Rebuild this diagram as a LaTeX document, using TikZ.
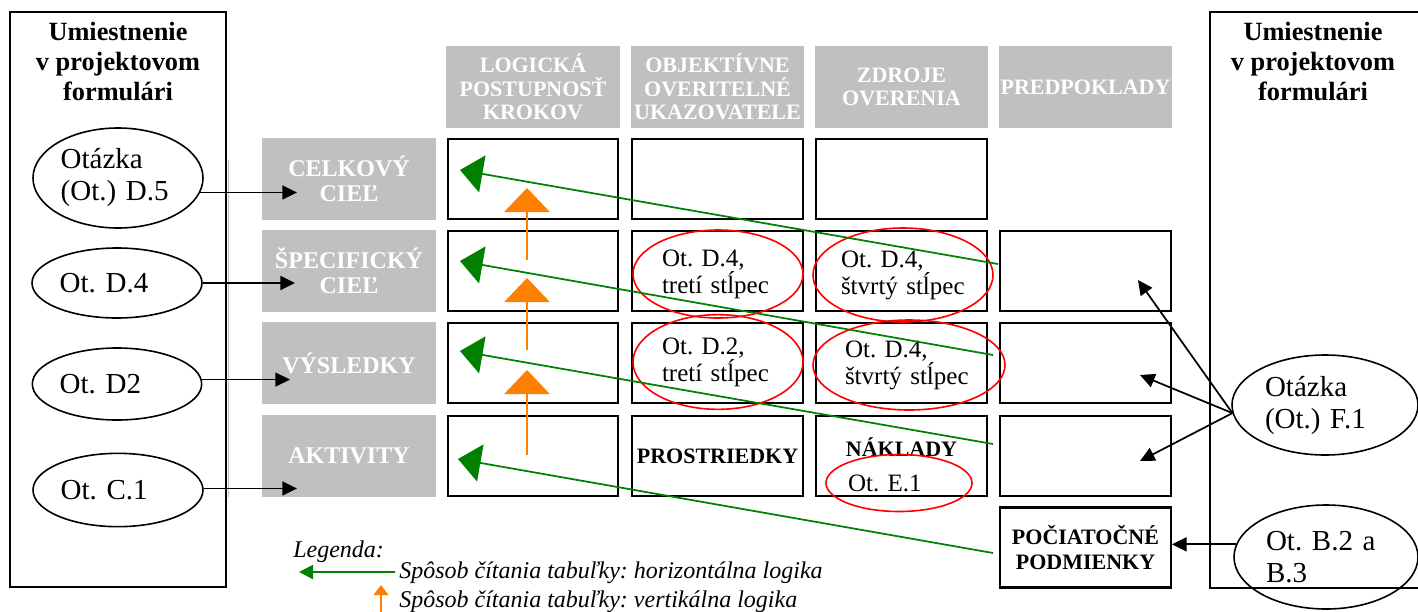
\documentclass[tikz,border=0pt]{standalone}
\usepackage{fontspec}
\setmainfont{Liberation Serif}
\usetikzlibrary{shapes.geometric,arrows.meta}
\definecolor{hdrgray}{RGB}{192,192,192}
\definecolor{grn}{RGB}{0,128,0}
\definecolor{org}{RGB}{255,128,0}
\newcommand\hdrfnt{\fontsize{16.5}{17.6}\selectfont\bfseries}
\newcommand\rowfnt{\fontsize{18}{18.75}\selectfont\bfseries}
\newcommand\cellfnt{\fontsize{16.5}{18.75}\selectfont\bfseries}
\newcommand\ellfnt{\fontsize{21.75}{24}\selectfont}
\newcommand\redfnt{\fontsize{18.75}{20.25}\selectfont}
\newcommand\ttlfnt{\fontsize{19.75}{22.5}\selectfont\bfseries}
\newcommand\legfnt{\fontsize{18}{21}\selectfont\itshape}
\tikzset{
  frame/.style={draw=black,line width=1.3pt},
  hdr/.style={fill=hdrgray,text=white,font=\hdrfnt,align=center,inner sep=0pt,
    minimum width=130pt,minimum height=61.5pt},
  rowhdr/.style={hdr,font=\rowfnt},
  cell/.style={draw=black,line width=1.6pt,font=\cellfnt,align=center,inner sep=0pt,
    minimum width=128pt,minimum height=60pt},
  celltxt/.style={font=\cellfnt,inner sep=0pt},
  qell/.style={ellipse,draw=black,line width=1.2pt,font=\ellfnt,align=left,
    text width=86pt,inner sep=0pt},
  redell/.style={ellipse,draw=red,line width=1.2pt,font=\redfnt,align=left,inner sep=0pt},
  ttl/.style={font=\ttlfnt,align=center,inner sep=0pt},
  legtxt/.style={font=\legfnt,inner sep=0pt,anchor=base west},
  blk/.style={line width=1.3pt,-{Triangle[length=11pt,width=10.5pt]}},
  grnarr/.style={grn,line width=1.3pt,-{Triangle[length=17pt,width=28pt]}},
  orgarr/.style={org,line width=1.5pt,-{Triangle[length=18pt,width=34pt]}},
}

\begin{document}
\frenchspacing
\begin{tikzpicture}[x=0.75pt,y=-0.75pt]
\useasboundingbox (0,0) rectangle (1418,611);
\clip (0,0) rectangle (1418,611);
\draw[frame] (10,12) rectangle (226,587);
\draw[frame] (1210,12) rectangle (1440,588);
\draw[hdrgray,line width=1.2pt] (228.5,160) -- (228.5,497);
\node[ttl] (ttll) at (118,62) {Umiestnenie\\v projektovom\\formulári};
\node[ttl] (ttlr) at (1313,62) {Umiestnenie\\v projektovom\\formulári};

\node[hdr] (hlog) at (533,87) {LOGICKÁ\\POSTUPNOSŤ\\KROKOV};
\node[hdr] (hobj) at (717.5,87) {OBJEKTÍVNE\\OVERITELNÉ\\UKAZOVATELE};
\node[hdr] (hzdr) at (901.5,87) {ZDROJE\\OVERENIA};
\node[hdr] (hpre) at (1085.5,87) {PREDPOKLADY};

\node[rowhdr] (hcel) at (349,179) {CELKOVÝ\\CIEĽ};
\node[rowhdr] (hspc) at (349,271) {ŠPECIFICKÝ\\CIEĽ};
\node[rowhdr] (hvys) at (349,363) {VÝSLEDKY};
\node[rowhdr] (hakt) at (349,456) {AKTIVITY};

\node[cell] (c11) at (533,179) {};
\node[cell] (c12) at (717.5,179) {};
\node[cell] (c13) at (901.5,179) {};
\node[cell] (c21) at (533,271) {};
\node[cell] (c22) at (717.5,271) {};
\node[cell] (c23) at (901.5,271) {};
\node[cell] (c24) at (1085.5,271) {};
\node[cell] (c31) at (533,363) {};
\node[cell] (c32) at (717.5,363) {};
\node[cell] (c33) at (901.5,363) {};
\node[cell] (c34) at (1085.5,363) {};
\node[cell] (c41) at (533,456) {};
\node[cell] (c42) at (717.5,456) {PROSTRIEDKY};
\node[cell] (c43) at (901.5,456) {};
\node[cell] (c44) at (1085.5,456) {};
\node[cell] (pod) at (1085.5,547.5) {POČIATOČNÉ\\PODMIENKY};
\node[celltxt] (nakl) at (901.5,447) {NÁKLADY};

\node[redell,minimum width=127.5pt,minimum height=66pt,text width=84pt] (e22) at (718,274) {Ot. D.4,\\tretí stĺpec};
\node[redell,minimum width=135pt,minimum height=70.5pt,text width=93pt] (e23) at (903,275) {Ot. D.4,\\štvrtý stĺpec};
\node[redell,minimum width=127.5pt,minimum height=71pt,text width=84pt] (e32) at (718,362) {Ot. D.2,\\tretí stĺpec};
\node[redell,minimum width=144pt,minimum height=67.5pt,text width=96pt] (e33) at (909,365) {Ot. D.4,\\štvrtý stĺpec};
\node[redell,minimum width=109.5pt,minimum height=42.75pt,text width=76.5pt] (e43) at (899,483) {Ot. E.1};

\coordinate (o1) at (527,455);
\coordinate (o2) at (527,370);
\coordinate (o3) at (527,350);
\coordinate (o4) at (527,278);
\coordinate (o5) at (527,260);
\coordinate (o6) at (527,188);
\draw[orgarr] (o1) -- (o2);
\draw[orgarr] (o3) -- (o4);
\draw[orgarr] (o5) -- (o6);

\coordinate (g1a) at (998,264);
\coordinate (g1b) at (460,170);
\coordinate (g2a) at (993,355);
\coordinate (g2b) at (460,261);
\coordinate (g3a) at (993,444);
\coordinate (g3b) at (460,351);
\coordinate (g4a) at (993,553);
\coordinate (g4b) at (458,459);
\draw[grnarr] (g1a) -- (g1b);
\draw[grnarr] (g2a) -- (g2b);
\draw[grnarr] (g3a) -- (g3b);
\draw[grnarr] (g4a) -- (g4b);

\node[qell,minimum width=127.5pt,minimum height=75pt] (d5) at (118,178) {Otázka\\(Ot.) D.5};
\node[qell,minimum width=127.5pt,minimum height=52.5pt] (d4) at (117,283) {Ot. D.4};
\node[qell,minimum width=127pt,minimum height=54pt] (d2) at (117,384) {Ot. D2};
\node[qell,minimum width=127.5pt,minimum height=55pt] (c1) at (118,490) {Ot. C.1};
\coordinate (tcel) at (297,192);
\coordinate (tspc) at (295,284);
\coordinate (tvys) at (290,379);
\coordinate (takt) at (297,488);
\draw[blk] (d5.-10.5) -- (d5.-10.5 -| tcel);
\draw[blk] (d4.east) -- (d4.east -| tspc);
\draw[blk] (d2.3.4) -- (d2.3.4 -| tvys);
\draw[blk] (c1.1.3) -- (c1.1.3 -| takt);

\node[qell,text width=90pt,minimum width=139.5pt,minimum height=75pt] (f1) at (1325,405) {Otázka\\(Ot.) F.1};
\node[qell,text width=90pt,minimum width=138pt,minimum height=78pt] (b2) at (1326,557) {Ot. B.2 a\\B.3};
\coordinate (fa) at (1138,280);
\coordinate (fb) at (1140,375);
\coordinate (fc) at (1140,461);
\draw[blk] (f1.185) -- (fa);
\draw[blk] (f1.185) -- (fb);
\draw[blk] (f1.185) -- (fc);
\draw[blk] (b2.172) -- (b2.172 -| pod.east);

\node[legtxt] (legh) at (293,557) {Legenda:};
\node[legtxt] (leg1) at (399,578) {Spôsob čítania tabuľky: horizontálna logika};
\node[legtxt] (leg2) at (399,607) {Spôsob čítania tabuľky: vertikálna logika};
\coordinate (lg1) at (395,572);
\coordinate (lg2) at (299,572);
\coordinate (lo1) at (381,612);
\coordinate (lo2) at (381,585);
\draw[grn,line width=1.5pt,-{Triangle[length=10.5pt,width=10.5pt]}] (lg1) -- (lg2);
\draw[org,line width=1.5pt,-{Triangle[length=7.5pt,width=11pt]}] (lo1) -- (lo2);
\end{tikzpicture}
\end{document}
